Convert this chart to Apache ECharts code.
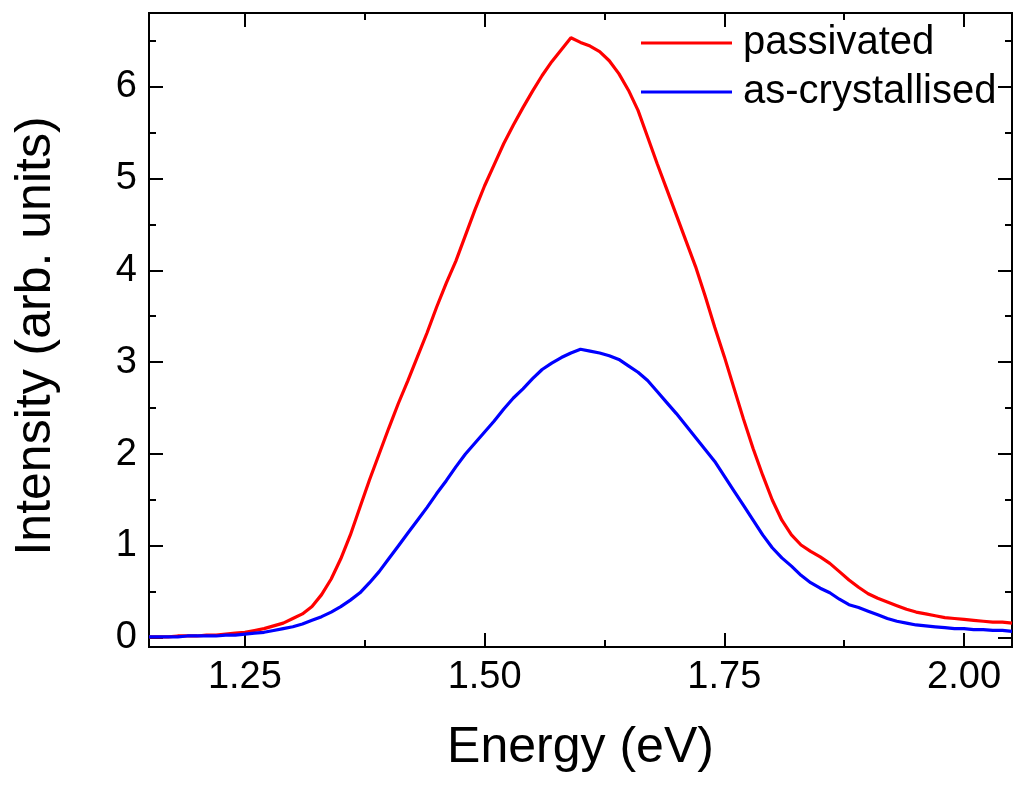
<!DOCTYPE html>
<html>
<head>
    <meta charset="utf-8">
    <script src="https://cdn.jsdelivr.net/npm/echarts@6/dist/echarts.min.js"></script>
    <style>
        html, body { margin: 0; padding: 0; background: #fff; }
    </style>
</head>
<body>
    <div id="main" style="width: 1015px;height:785px;"></div>
    <script type="text/javascript">
        // photon energy (eV)
        var energy = [
            1.15, 1.16, 1.17, 1.18, 1.19, 1.20, 1.21, 1.22, 1.23, 1.24,
            1.25, 1.26, 1.27, 1.28, 1.29, 1.30, 1.31, 1.32, 1.33, 1.34,
            1.35, 1.36, 1.37, 1.38, 1.39, 1.40, 1.41, 1.42, 1.43, 1.44,
            1.45, 1.46, 1.47, 1.48, 1.49, 1.50, 1.51, 1.52, 1.53, 1.54,
            1.55, 1.56, 1.57, 1.58, 1.59, 1.60, 1.61, 1.62, 1.63, 1.64,
            1.65, 1.66, 1.67, 1.68, 1.69, 1.70, 1.71, 1.72, 1.73, 1.74,
            1.75, 1.76, 1.77, 1.78, 1.79, 1.80, 1.81, 1.82, 1.83, 1.84,
            1.85, 1.86, 1.87, 1.88, 1.89, 1.90, 1.91, 1.92, 1.93, 1.94,
            1.95, 1.96, 1.97, 1.98, 1.99, 2.00, 2.01, 2.02, 2.03, 2.04,
            2.05
        ];
        var passivated = [
            0.01, 0.01, 0.01, 0.02, 0.02, 0.02, 0.03, 0.03, 0.04, 0.05,
            0.06, 0.08, 0.10, 0.13, 0.16, 0.21, 0.26, 0.34, 0.47, 0.64,
            0.86, 1.12, 1.42, 1.72, 2.00, 2.28, 2.55, 2.80, 3.06, 3.32,
            3.60, 3.86, 4.10, 4.38, 4.66, 4.92, 5.15, 5.38, 5.58, 5.77,
            5.95, 6.12, 6.27, 6.40, 6.53, 6.48, 6.44, 6.38, 6.28, 6.14,
            5.96, 5.74, 5.45, 5.16, 4.88, 4.60, 4.32, 4.04, 3.72, 3.38,
            3.06, 2.72, 2.38, 2.06, 1.77, 1.50, 1.28, 1.12, 1.01, 0.94,
            0.88, 0.81, 0.72, 0.63, 0.55, 0.48, 0.43, 0.39, 0.35, 0.31,
            0.28, 0.26, 0.24, 0.22, 0.21, 0.20, 0.19, 0.18, 0.17, 0.17,
            0.16
        ];
        var asCrystallised = [
            0.01, 0.01, 0.01, 0.01, 0.02, 0.02, 0.02, 0.02, 0.03, 0.03,
            0.04, 0.05, 0.06, 0.08, 0.10, 0.12, 0.15, 0.19, 0.23, 0.28,
            0.34, 0.41, 0.49, 0.60, 0.72, 0.86, 1.00, 1.14, 1.28, 1.42,
            1.57, 1.71, 1.86, 2.00, 2.12, 2.24, 2.36, 2.49, 2.61, 2.71,
            2.82, 2.92, 2.99, 3.05, 3.10, 3.14, 3.12, 3.10, 3.07, 3.03,
            2.96, 2.89, 2.80, 2.68, 2.56, 2.44, 2.31, 2.18, 2.05, 1.92,
            1.76, 1.60, 1.44, 1.28, 1.12, 0.98, 0.87, 0.78, 0.68, 0.60,
            0.54, 0.49, 0.42, 0.36, 0.33, 0.29, 0.25, 0.21, 0.18, 0.16,
            0.14, 0.13, 0.12, 0.11, 0.10, 0.10, 0.09, 0.09, 0.08, 0.08,
            0.07
        ];
        var seriesNames = ['passivated', 'as-crystallised'];
        var xMajor = [1.25, 1.5, 1.75, 2.0];
        var xMinor = [1.375, 1.625, 1.875];
        var yMajor = [0, 1, 2, 3, 4, 5, 6];
        var yMinor = [0.5, 1.5, 2.5, 3.5, 4.5, 5.5, 6.5];

        var font = '"Liberation Sans", Arial, sans-serif';
        var xMin = 1.15, xMax = 2.05, yMin = -0.1, yMax = 6.8;

        function pairs(xs, ys) {
            var res = [];
            for (var i = 0; i < xs.length; i++) {
                res.push([xs[i], ys[i]]);
            }
            return res;
        }

        // one axis per tick set (major / minor, bottom / top or left / right)
        function makeAxis(pos, ticks, len, showLabel, extra) {
            var ax = {
                type: 'value',
                position: pos,
                min: pos == 'bottom' || pos == 'top' ? xMin : yMin,
                max: pos == 'bottom' || pos == 'top' ? xMax : yMax,
                splitLine: { show: false },
                axisLine: { show: true, onZero: false, lineStyle: { color: '#000', width: 2 } },
                axisTick: {
                    show: true, inside: true, length: len, customValues: ticks,
                    lineStyle: { color: '#000', width: 2 }
                },
                axisLabel: { show: false }
            };
            if (showLabel) {
                ax.axisLabel = {
                    show: true, customValues: ticks, color: '#000',
                    fontFamily: font, fontSize: 38, margin: 12,
                    formatter: pos == 'bottom' ? function (v) { return v.toFixed(2); } : function (v) { return v.toFixed(0); }
                };
            }
            for (var k in extra) ax[k] = extra[k];
            return ax;
        }

        var myChart = echarts.init(document.getElementById('main'));

        var option = {
            animation: false,
            backgroundColor: '#fff',
            grid: { left: 149, right: 3, top: 13, bottom: 138, containLabel: false },
            legend: {
                orient: 'vertical',
                left: 636,
                top: 18,
                icon: 'rect',
                itemWidth: 91,
                itemHeight: 3,
                itemGap: 9,
                data: seriesNames,
                textStyle: { color: '#000', fontFamily: font, fontSize: 40, padding: [0, 0, 0, 6] }
            },
            xAxis: [
                makeAxis('bottom', xMajor, 14, true, {
                    name: 'Energy (eV)', nameLocation: 'middle', nameGap: 76,
                    nameTextStyle: { color: '#000', fontFamily: font, fontSize: 50 }
                }),
                makeAxis('bottom', xMinor, 7, false),
                makeAxis('top', xMajor, 14, false),
                makeAxis('top', xMinor, 7, false)
            ],
            yAxis: [
                makeAxis('left', yMajor, 14, true, {
                    name: 'Intensity (arb. units)', nameLocation: 'middle', nameGap: 88,
                    nameTextStyle: { color: '#000', fontFamily: font, fontSize: 50, padding: [0, 12, 0, 0] }
                }),
                makeAxis('left', yMinor, 7, false),
                makeAxis('right', yMajor, 14, false),
                makeAxis('right', yMinor, 7, false)
            ],
            series: [
                {
                    name: seriesNames[0],
                    type: 'line',
                    data: pairs(energy, passivated),
                    showSymbol: false,
                    symbol: 'none',
                    color: '#ff0000',
                    lineStyle: { color: '#ff0000', width: 3.2 }
                },
                {
                    name: seriesNames[1],
                    type: 'line',
                    data: pairs(energy, asCrystallised),
                    showSymbol: false,
                    symbol: 'none',
                    color: '#0000ff',
                    lineStyle: { color: '#0000ff', width: 3.2 }
                }
            ]
        };

        myChart.setOption(option);
    </script>
</body>
</html>
